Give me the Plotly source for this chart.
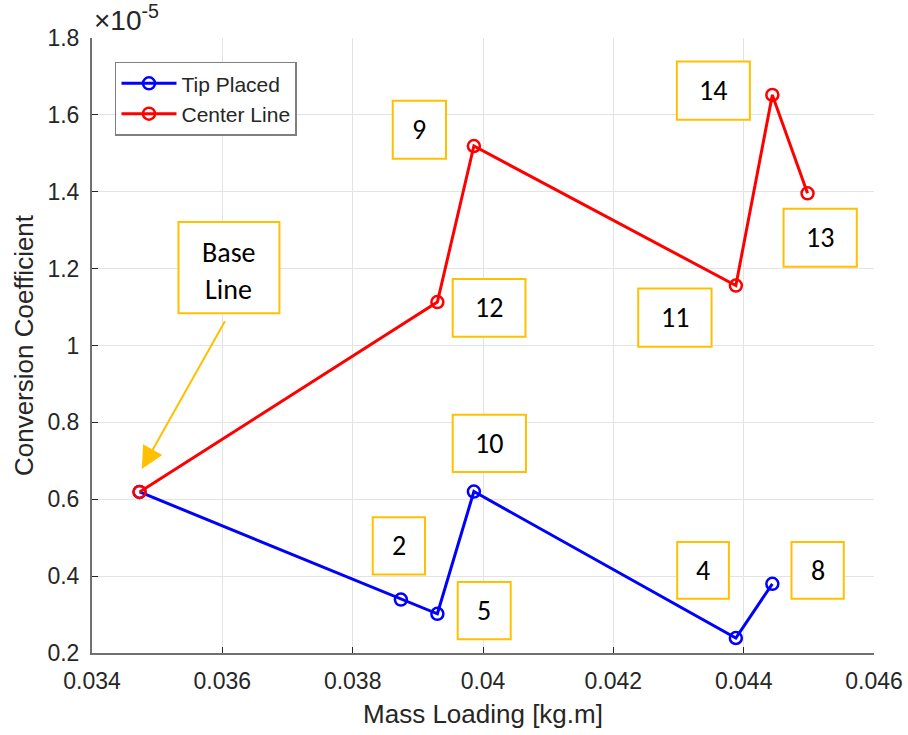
import plotly.graph_objects as go

# ---- data ----
mass_tip = [0.03473, 0.03874, 0.03930, 0.03986, 0.04388, 0.04444]
coef_tip = [6.19e-6, 3.39e-6, 3.02e-6, 6.20e-6, 2.39e-6, 3.80e-6]

mass_center = [0.03473, 0.03930, 0.03986, 0.04388, 0.04444, 0.04498]
coef_center = [6.19e-6, 11.13e-6, 15.19e-6, 11.56e-6, 16.52e-6, 13.96e-6]

series_names = ["Tip Placed", "Center Line"]
x_ticks = [0.034, 0.036, 0.038, 0.040, 0.042, 0.044, 0.046]
x_tick_text = ["0.034", "0.036", "0.038", "0.04", "0.042", "0.044", "0.046"]
y_ticks = [0.2, 0.4, 0.6, 0.8, 1.0, 1.2, 1.4, 1.6, 1.8]
y_tick_text = ["0.2", "0.4", "0.6", "0.8", "1", "1.2", "1.4", "1.6", "1.8"]
scale = 1e-5

# callout labels: text, box (x0, x1, y0, y1) in axis units
labels = ["9", "12", "14", "13", "11", "10", "2", "5", "4", "8"]
label_boxes = [
    (0.038615, 0.039432, 1.486, 1.637),
    (0.039535, 0.040652, 1.023, 1.173),
    (0.042975, 0.044095, 1.587, 1.739),
    (0.044612, 0.045736, 1.205, 1.356),
    (0.042382, 0.043507, 0.997, 1.148),
    (0.039535, 0.040659, 0.671, 0.820),
    (0.038308, 0.039110, 0.404, 0.553),
    (0.039612, 0.040425, 0.236, 0.385),
    (0.042980, 0.043773, 0.341, 0.489),
    (0.044734, 0.045536, 0.341, 0.489),
]
base_box = (0.035327, 0.036876, 1.084, 1.321)
base_arrow_tail = (0.036109, 1.084)
base_arrow_tip = (0.034765, 0.679)

BLUE = "#0000FF"
RED = "#FF0000"
GOLD = "#FFC000"
AX = "#262626"
FONT = "Liberation Sans, Arial, Helvetica, sans-serif"
BOXFONT = "Carlito, Calibri, Lato, sans-serif"
BOXSIZE = 28

fig = go.Figure()
fig.add_trace(go.Scatter(
    x=mass_tip, y=[v / scale for v in coef_tip], name=series_names[0],
    mode="lines+markers",
    line=dict(color=BLUE, width=3),
    marker=dict(symbol="circle-open", size=12, color=BLUE, line=dict(width=2.5, color=BLUE)),
))
fig.add_trace(go.Scatter(
    x=mass_center, y=[v / scale for v in coef_center], name=series_names[1],
    mode="lines+markers",
    line=dict(color=RED, width=3),
    marker=dict(symbol="circle-open", size=12, color=RED, line=dict(width=2.5, color=RED)),
))

shapes = []
annotations = []
for txt, (x0, x1, y0, y1) in zip(labels, label_boxes):
    shapes.append(dict(type="rect", xref="x", yref="y", x0=x0, x1=x1, y0=y0, y1=y1,
                       line=dict(color=GOLD, width=2), fillcolor="white", layer="above"))
    annotations.append(dict(x=(x0 + x1) / 2, y=(y0 + y1) / 2, xref="x", yref="y",
                            text=txt, showarrow=False,
                            font=dict(family=BOXFONT, size=BOXSIZE, color="black")))

bx0, bx1, by0, by1 = base_box
shapes.append(dict(type="rect", xref="x", yref="y", x0=bx0, x1=bx1, y0=by0, y1=by1,
                   line=dict(color=GOLD, width=2), fillcolor="white", layer="above"))
bcx = (bx0 + bx1) / 2
annotations.append(dict(x=bcx, y=by0 + (by1 - by0) * 0.665, xref="x", yref="y", text="Base",
                        showarrow=False, font=dict(family=BOXFONT, size=BOXSIZE, color="black")))
annotations.append(dict(x=bcx, y=by0 + (by1 - by0) * 0.26, xref="x", yref="y", text="Line",
                        showarrow=False, font=dict(family=BOXFONT, size=BOXSIZE, color="black")))
annotations.append(dict(x=base_arrow_tip[0], y=base_arrow_tip[1], xref="x", yref="y",
                        ax=base_arrow_tail[0], ay=base_arrow_tail[1], axref="x", ayref="y",
                        text=" ", showarrow=True, arrowhead=2, arrowsize=2.2,
                        arrowwidth=2, arrowcolor=GOLD))
# exponent label
annotations.append(dict(x=0, y=1, xref="paper", yref="paper", xanchor="left", yanchor="bottom",
                        text="×10<sup>-5</sup>", showarrow=False, yshift=0,
                        font=dict(family=FONT, size=28, color=AX)))

fig.update_layout(
    width=908, height=735,
    margin=dict(l=92, r=34, t=38, b=82, autoexpand=False),
    paper_bgcolor="white", plot_bgcolor="white",
    font=dict(family=FONT, size=23, color=AX),
    shapes=shapes, annotations=annotations,
    legend=dict(x=0.0294, y=0.9615, xanchor="left", yanchor="top",
                bgcolor="white", bordercolor="#7f7f7f", borderwidth=1.5,
                font=dict(family=FONT, size=21, color=AX),
                tracegroupgap=0, itemwidth=55),
    showlegend=True,
)
fig.update_xaxes(
    range=[0.034, 0.046], tickvals=x_ticks, ticktext=x_tick_text,
    showgrid=True, gridcolor="#e3e3e3", gridwidth=1,
    showline=True, linecolor="#707070", linewidth=2,
    ticks="inside", ticklen=6, tickcolor="#262626", tickwidth=1,
    zeroline=False, ticklabelstandoff=6, automargin=False,
    title=dict(text="Mass Loading [kg.m]", font=dict(size=26, color=AX), standoff=12),
)
fig.update_yaxes(
    range=[0.2, 1.8], tickvals=y_ticks, ticktext=y_tick_text,
    showgrid=True, gridcolor="#e3e3e3", gridwidth=1,
    showline=True, linecolor="#707070", linewidth=2,
    ticks="inside", ticklen=6, tickcolor="#262626", tickwidth=1,
    zeroline=False, ticklabelstandoff=6, automargin=False,
    title=dict(text="Conversion Coefficient", font=dict(size=26, color=AX), standoff=6),
)

fig.write_html("out.html")
